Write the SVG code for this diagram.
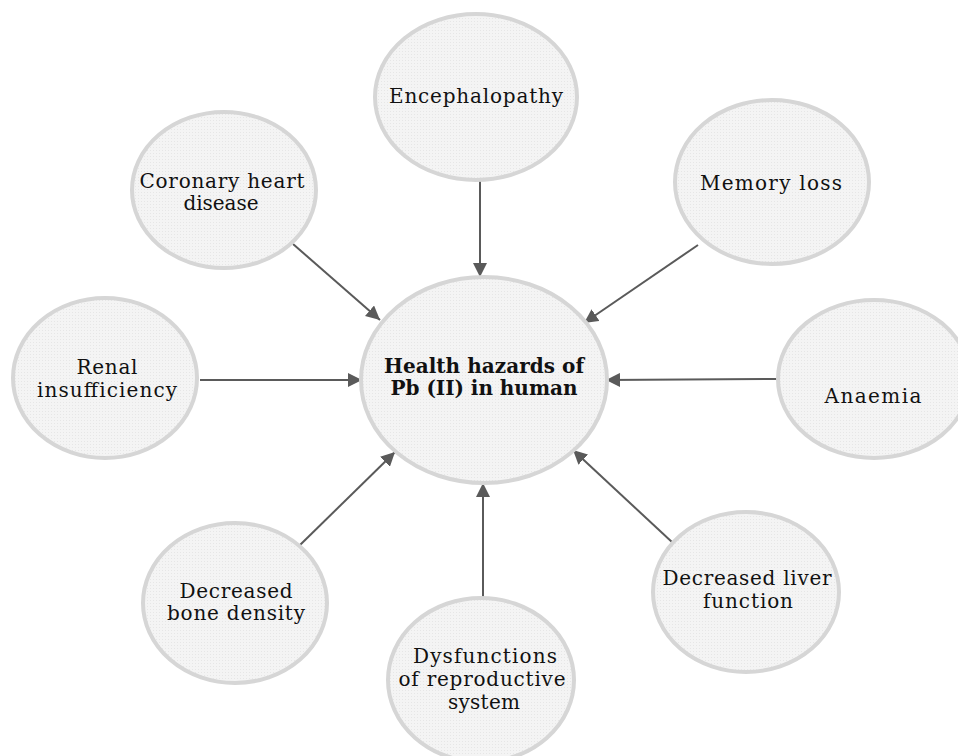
<svg xmlns="http://www.w3.org/2000/svg" width="958" height="756" viewBox="0 0 958 756">
  <defs>
    <!-- fine dotted texture used as bubble fill -->
    <pattern id="dots" width="3" height="3" patternUnits="userSpaceOnUse">
      <rect width="3" height="3" fill="#f4f4f4"/>
      <rect x="0" y="0" width="1" height="1" fill="#e6e6e6"/>
    </pattern>
    <marker id="arrow" viewBox="0 0 14 14" refX="14" refY="7" markerWidth="14" markerHeight="14" markerUnits="userSpaceOnUse" orient="auto">
      <path d="M0,0 L14,7 L0,14 z" fill="#5a5a5a"/>
    </marker>
    <style>
      .bubble { fill: url(#dots); stroke: #d6d6d6; stroke-width: 4; }
      .label { font-family: "DejaVu Serif", "Liberation Serif", serif; font-size: 20px; fill: #111; text-anchor: middle; }
      .title { font-family: "DejaVu Serif", "Liberation Serif", serif; font-size: 20px; font-weight: bold; fill: #111; text-anchor: middle; }
      .link { stroke: #5a5a5a; stroke-width: 2; fill: none; marker-end: url(#arrow); }
    </style>
  </defs>

  <rect width="958" height="756" fill="#ffffff"/>

  <!-- connectors: every cause points at the central bubble -->
  <g id="connectors">
    <line class="link" x1="480" y1="181" x2="480" y2="277"/>
    <line class="link" x1="293" y1="244" x2="380" y2="320"/>
    <line class="link" x1="698" y1="245" x2="584" y2="323"/>
    <line class="link" x1="200" y1="380" x2="362" y2="380"/>
    <line class="link" x1="779" y1="379" x2="606" y2="380"/>
    <line class="link" x1="300" y1="545" x2="395" y2="452"/>
    <line class="link" x1="483" y1="603" x2="483" y2="483"/>
    <line class="link" x1="673" y1="543" x2="573" y2="450"/>
  </g>

  <g id="center">
    <ellipse class="bubble" cx="484" cy="380" rx="123" ry="103"/>
    <text class="title" x="484" y="373" textLength="200">Health hazards of</text>
    <text class="title" x="484" y="395" textLength="187">Pb (II) in human</text>
  </g>

  <g id="encephalopathy">
    <ellipse class="bubble" cx="476" cy="97" rx="101" ry="83"/>
    <text class="label" x="476" y="103" textLength="174">Encephalopathy</text>
  </g>

  <g id="coronary">
    <ellipse class="bubble" cx="224" cy="190" rx="92" ry="78"/>
    <text class="label" x="222" y="188" textLength="165">Coronary heart</text>
    <text class="label" x="221" y="210" textLength="75">disease</text>
  </g>

  <g id="memory">
    <ellipse class="bubble" cx="772" cy="182" rx="97" ry="82"/>
    <text class="label" x="771" y="190" textLength="142">Memory loss</text>
  </g>

  <g id="renal">
    <ellipse class="bubble" cx="105" cy="378" rx="92" ry="80"/>
    <text class="label" x="107" y="374" textLength="61">Renal</text>
    <text class="label" x="107" y="397" textLength="140">insufficiency</text>
  </g>

  <g id="anaemia">
    <ellipse class="bubble" cx="874" cy="379" rx="96" ry="79"/>
    <text class="label" x="873" y="403" textLength="97">Anaemia</text>
  </g>

  <g id="bone">
    <ellipse class="bubble" cx="235" cy="603" rx="92" ry="80"/>
    <text class="label" x="236" y="598" textLength="113">Decreased</text>
    <text class="label" x="236" y="620" textLength="138">bone density</text>
  </g>

  <g id="liver">
    <ellipse class="bubble" cx="746" cy="592" rx="93" ry="80"/>
    <text class="label" x="747" y="585" textLength="169">Decreased liver</text>
    <text class="label" x="748" y="608" textLength="90">function</text>
  </g>

  <g id="reproductive">
    <ellipse class="bubble" cx="481" cy="680" rx="93" ry="82"/>
    <text class="label" x="485" y="663" textLength="144">Dysfunctions</text>
    <text class="label" x="482" y="686" textLength="167">of reproductive</text>
    <text class="label" x="484" y="709" textLength="72">system</text>
  </g>
</svg>
